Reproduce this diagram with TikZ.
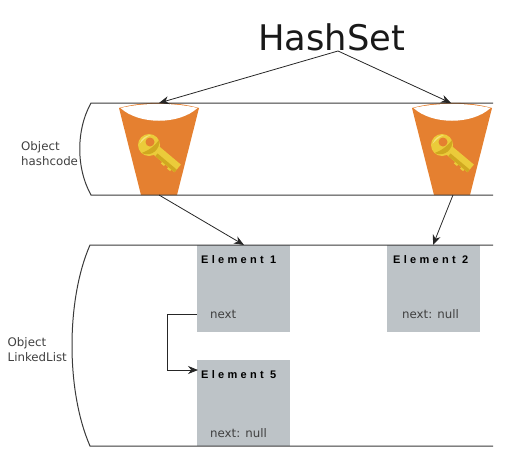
\documentclass[tikz,border=0pt]{standalone}
\usepackage{fontspec}
\setmainfont{DejaVu Sans}
\newfontfamily\elemfont[LetterSpace=30]{Liberation Sans}
\usetikzlibrary{arrows.meta}
\definecolor{bucketorange}{HTML}{E58030}
\definecolor{elemgrey}{HTML}{BDC3C7}
\definecolor{linegrey}{HTML}{3A3A3A}
\definecolor{labelgrey}{HTML}{404040}
\definecolor{keygold}{HTML}{EBCB3A}
\definecolor{keydark}{HTML}{D0A820}
\definecolor{keylight}{HTML}{F6E27A}
\tikzset{
  rail/.style={draw=linegrey,line width=1pt},
  conn/.style={draw=black!85,line width=0.8pt,-{Stealth[length=10pt,width=8pt]}},
  elembox/.style={fill=elemgrey,draw=none,minimum width=93pt,anchor=north west,inner sep=0pt,outer sep=0pt},
  elemtitle/.style={anchor=west,inner sep=0pt,font=\elemfont\bfseries\fontsize{11}{12}\selectfont,text=black},
  elemtext/.style={anchor=west,inner sep=0pt,font=\fontsize{11.8}{13}\selectfont,text=labelgrey},
  sidelabel/.style={anchor=west,inner sep=0pt,align=left,font=\fontsize{11.8}{15}\selectfont,text=labelgrey},
  pics/bucket/.style={code={
    \fill[bucketorange] (-40,-42) .. controls (-15,-49) and (15,-49) .. (40,-42) -- (18,45) -- (-18,45) -- cycle;
    \fill[white] (-38.5,-42) .. controls (-15,-47.5) and (15,-47.5) .. (38.5,-42) .. controls (20,-25) and (-20,-25) .. (-38.5,-42) -- cycle;
    \begin{scope}[shift={(-10,-5)}]
      % shaft with teeth along its lower-left side
      \begin{scope}[rotate=-40]
        \fill[keygold] (6,-5.5) -- (37,-5.5) -- (37,4.5) -- (33,4.5) -- (33,6.5) -- (29,6.5) -- (29,4.5) -- (25,4.5) -- (25,6.5) -- (21,6.5) -- (21,4.5) -- (6,4.5) -- cycle;
        \fill[keydark] (12,1) -- (37,1) -- (37,4.5) -- (12,4.5) -- cycle;
      \end{scope}
      \fill[keygold] (0,0) circle (11);
      \fill[keydark] (-7.5,8) .. controls (0,5.5) and (6.5,0) .. (10,-5) .. controls (12,3) and (3,13) .. (-7.5,8) -- cycle;
      \fill[keylight] (-9.5,-1) .. controls (-8,-6.5) and (-3,-10) .. (2,-10) .. controls (-3,-8) and (-7,-4) .. (-9.5,-1) -- cycle;
      \fill[bucketorange] (1,-3) circle (4.5);
    \end{scope}
  }},
}
\begin{document}
\begin{tikzpicture}[x=1pt,y=-1pt]
\useasboundingbox (0,0) rectangle (527,458);
% rails
\coordinate (hTL) at (91,103); \coordinate (hTR) at (493,103);
\coordinate (hBL) at (91,195); \coordinate (hBR) at (493,195);
\coordinate (lTL) at (90,245); \coordinate (lTR) at (493,245);
\coordinate (lBL) at (90,446); \coordinate (lBR) at (493,446);
% element boxes
\node[elembox,minimum height=87pt] (e1) at (197,245) {};
\node[elembox,minimum height=87pt] (e2) at (387,245) {};
\node[elembox,minimum height=86pt] (e5) at (197,360) {};
% buckets
\pic at (159,150) {bucket};
\pic at (452,150) {bucket};
\path[rail] (hTR) -- (hTL) .. controls (76,130) and (76,168) .. (hBL) -- (hBR);
\path[rail] (lTR) -- (lTL) .. controls (66,300) and (66,391) .. (lBL) -- (lBR);
% texts
\node[anchor=base,inner sep=0pt,font=\fontsize{35.3}{40}\selectfont,text=black!90] (title) at (331.5,50) {HashSet};
\node[sidelabel] (hashlabel) at (21,153.5) {Object\\hashcode};
\node[sidelabel] (listlabel) at (7.5,349.5) {Object\\LinkedList};
\node[elemtitle] (t1) at (201,260) {Element 1};
\node[elemtitle] (t2) at (393,260) {Element 2};
\node[elemtitle] (t5) at (201,375) {Element 5};
\node[elemtext] (n1) at (210,314.5) {next};
\node[elemtext] (n2) at (402,314.5) {next: null};
\node[elemtext] (n5) at (210,433) {next: null};
% connectors
\coordinate (hub) at (338,51);
\coordinate (b1top) at (159,103);
\coordinate (b2top) at (451,103);
\coordinate (b1bot) at (159,195);
\coordinate (b2bot) at (453,195);
\coordinate (e1in) at (244,245);
\coordinate (e2in) at (433,245);
\coordinate (e1out) at (197,314);
\coordinate (e5in) at (198,370);
\path[conn] (hub) -- (b1top);
\path[conn] (hub) -- (b2top);
\path[conn] (b1bot) -- (e1in);
\path[conn] (b2bot) -- (e2in);
\path[conn] (e1out) -- (167,314) -- (167,370) -- (e5in);
\end{tikzpicture}
\end{document}
